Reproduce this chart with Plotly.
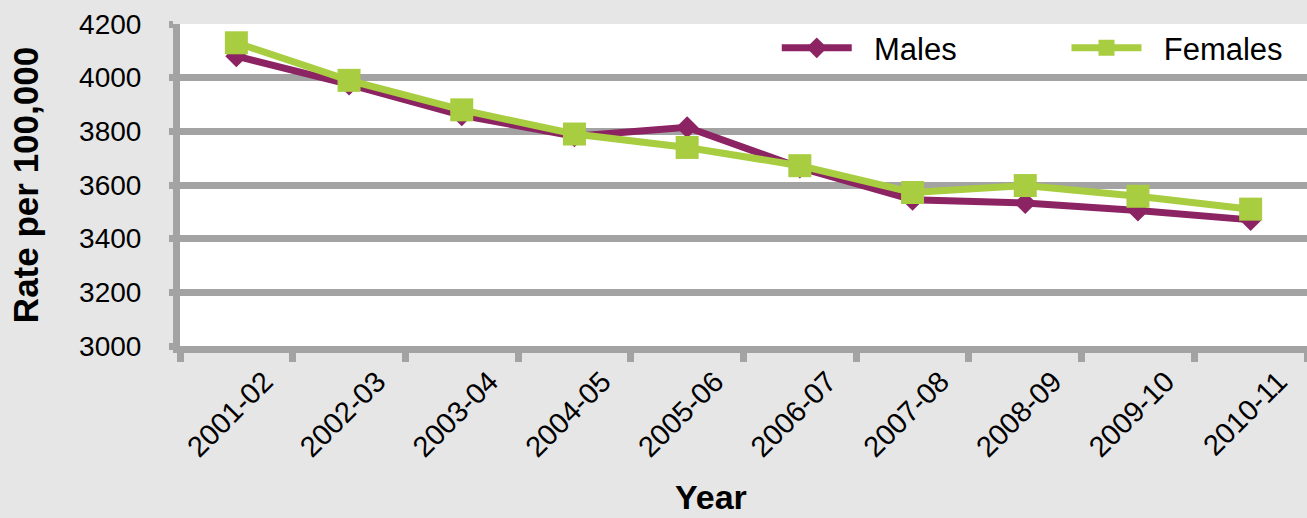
import plotly.graph_objects as go

years = ["2001-02", "2002-03", "2003-04", "2004-05", "2005-06",
         "2006-07", "2007-08", "2008-09", "2009-10", "2010-11"]
males = [4080, 3975, 3860, 3782, 3815, 3665, 3545, 3533, 3505, 3470]
females = [4130, 3990, 3880, 3790, 3740, 3672, 3572, 3598, 3558, 3510]

PURPLE = "#8c2363"
GREEN = "#a8cd40"
GRAY = "#a3a3a3"
FONT = "Liberation Sans, Arial, sans-serif"
PAD = "\u00a0\u00a0"

fig = go.Figure()
fig.add_trace(go.Scatter(
    x=years, y=males, name=PAD + "Males", mode="lines+markers",
    line=dict(color=PURPLE, width=7),
    marker=dict(symbol="diamond", size=17, color=PURPLE),
    legend="legend",
))
fig.add_trace(go.Scatter(
    x=years, y=females, name=PAD + "Females", mode="lines+markers",
    line=dict(color=GREEN, width=7),
    marker=dict(symbol="square", size=23, color=GREEN),
    legend="legend2",
))

leg_common = dict(
    orientation="h", yanchor="middle", xanchor="left",
    bgcolor="rgba(0,0,0,0)", font=dict(size=31), itemwidth=70,
)

fig.update_layout(
    width=1307, height=518,
    margin=dict(l=180, r=0, t=24, b=172),
    paper_bgcolor="#e6e6e6",
    plot_bgcolor="white",
    font=dict(family=FONT, size=28, color="black"),
    showlegend=True,
    legend=dict(x=0.5295, y=0.925, **leg_common),
    legend2=dict(x=0.7866, y=0.925, **leg_common),
    xaxis=dict(
        type="category", range=[-0.5, 9.5],
        showgrid=False, showline=True, linecolor=GRAY, linewidth=7,
        ticks="outside", tickson="boundaries", ticklen=9, tickwidth=7,
        tickcolor=GRAY, tickangle=-45, tickfont=dict(size=29),
        ticklabelshift=28,
    ),
    yaxis=dict(
        range=[3000, 4200], dtick=200, tick0=3000,
        showgrid=True, gridcolor=GRAY, gridwidth=7,
        showline=True, linecolor=GRAY, linewidth=7,
        ticks="outside", ticklen=4, tickwidth=7, tickcolor=GRAY,
        ticklabelstandoff=22, tickfont=dict(size=28),
        zeroline=False,
        title=dict(text="<b>Rate per 100,000</b>", font=dict(size=35), standoff=32),
    ),
    annotations=[dict(
        text="<b>Year</b>", xref="paper", yref="paper",
        x=0.471, y=-0.47, xanchor="center", yanchor="middle",
        showarrow=False, font=dict(size=34),
    )],
)

fig.write_html("out.html", config={"displayModeBar": False},
               post_script="document.body.style.margin='0';")
